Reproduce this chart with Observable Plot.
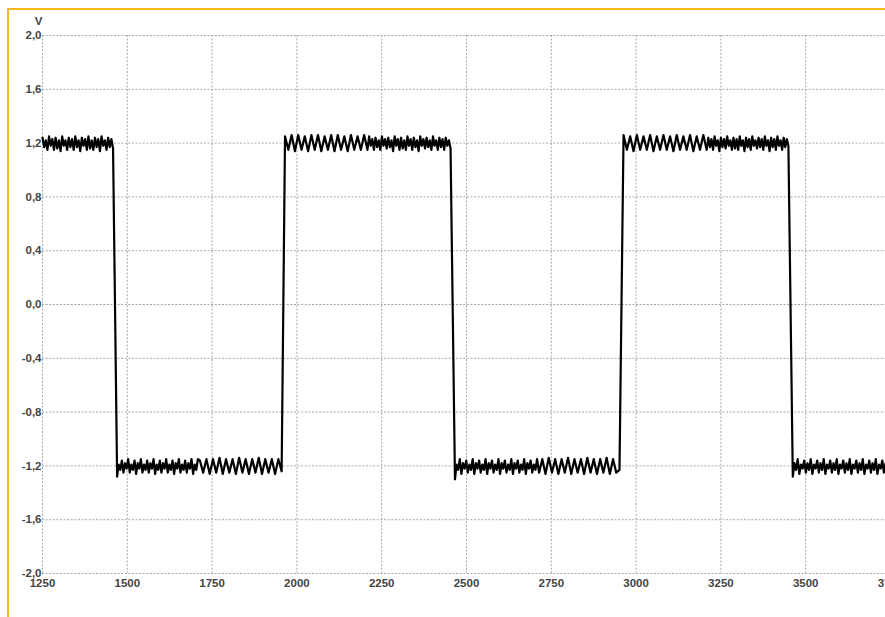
<!DOCTYPE html>
<html><head><meta charset="utf-8">
<script src="https://cdn.jsdelivr.net/npm/d3@7"></script>
<script src="https://cdn.jsdelivr.net/npm/@observablehq/plot@0.6"></script>
<style>
html,body{margin:0;padding:0;background:#fff;width:885px;height:617px;overflow:hidden}
#wrap{position:relative;width:885px;height:617px}
#border{position:absolute;left:7px;top:8px;right:0;bottom:0;border-left:2px solid #f6b81c;border-top:2px solid #f6b81c;pointer-events:none}
#chart{position:absolute;left:0;top:0}
</style></head><body>
<div id="wrap"><div id="chart"></div><div id="border"></div></div>
<script>
const xTicks = [1250, 1500, 1750, 2000, 2250, 2500, 2750, 3000, 3250, 3500, 3750];
const yTicks = [-2.0, -1.6, -1.2, -0.8, -0.4, 0.0, 0.4, 0.8, 1.2, 1.6, 2.0];

// voltage readings (V) per flat section of the trace
const hiDense1 = [1.24,1.17,1.22,1.15, 1.25,1.18,1.23,1.15, 1.24,1.16,1.22,1.14, 1.25,1.18,1.22,1.15, 1.24,1.17,1.23,1.15, 1.25,1.17,1.22,1.14, 1.24,1.18,1.23,1.15, 1.25,1.16,1.22,1.15, 1.24,1.17,1.23,1.14, 1.25,1.18,1.22,1.15, 1.24,1.17,1.23,1.16];
const loDense1 = [-1.28,-1.19,-1.23,-1.16, -1.25,-1.18,-1.22,-1.15, -1.25,-1.19,-1.23,-1.16, -1.26,-1.18,-1.22,-1.15, -1.25,-1.19,-1.23,-1.16, -1.25,-1.18,-1.22,-1.15, -1.26,-1.19,-1.23,-1.16, -1.25,-1.18,-1.22,-1.15, -1.25,-1.19,-1.23,-1.16, -1.26,-1.18,-1.22,-1.15, -1.25,-1.19,-1.23,-1.16, -1.25,-1.18,-1.22,-1.15, -1.26,-1.19,-1.23,-1.15];
const loClean1 = [-1.16,-1.25,-1.15,-1.26,-1.15,-1.25,-1.14,-1.26,-1.15,-1.25,-1.15,-1.26,-1.14,-1.25,-1.15,-1.26,-1.15,-1.25,-1.14,-1.26,-1.15,-1.25,-1.15,-1.26,-1.15,-1.24];
const hiClean1 = [1.25,1.15,1.26,1.14,1.26,1.15,1.25,1.14,1.26,1.15,1.26,1.14,1.25,1.15,1.26,1.14,1.26,1.15,1.25,1.14,1.26,1.15,1.25,1.15,1.26,1.15];
const hiDense2 = [1.25,1.18,1.23,1.15, 1.24,1.17,1.22,1.15, 1.25,1.18,1.23,1.16, 1.24,1.17,1.22,1.14, 1.25,1.18,1.23,1.15, 1.24,1.16,1.22,1.15, 1.25,1.18,1.23,1.15, 1.24,1.17,1.22,1.14, 1.25,1.18,1.23,1.16, 1.24,1.17,1.22,1.15, 1.25,1.18,1.22,1.15, 1.24,1.17,1.23,1.15, 1.24,1.18,1.22,1.16];
const loDense2 = [-1.30,-1.19,-1.23,-1.15, -1.26,-1.18,-1.22,-1.16, -1.25,-1.19,-1.23,-1.15, -1.26,-1.18,-1.22,-1.16, -1.25,-1.19,-1.23,-1.15, -1.26,-1.18,-1.22,-1.16, -1.25,-1.19,-1.23,-1.15, -1.26,-1.18,-1.22,-1.16, -1.25,-1.19,-1.23,-1.15, -1.26,-1.18,-1.22,-1.16, -1.25,-1.19,-1.23,-1.15, -1.26,-1.18,-1.22,-1.16, -1.25,-1.19,-1.23,-1.15];
const loClean2 = [-1.25,-1.15,-1.26,-1.14,-1.25,-1.15,-1.26,-1.15,-1.25,-1.14,-1.26,-1.15,-1.25,-1.15,-1.26,-1.14,-1.25,-1.15,-1.26,-1.15,-1.25,-1.14,-1.26,-1.15,-1.25,-1.23];
const hiClean2 = [1.26,1.15,1.25,1.14,1.26,1.15,1.25,1.15,1.26,1.14,1.25,1.15,1.26,1.15,1.25,1.14,1.26,1.15,1.25,1.15,1.26,1.14,1.25,1.15,1.26,1.15];
const hiDense3 = [1.24,1.17,1.23,1.15, 1.25,1.18,1.22,1.14, 1.24,1.17,1.23,1.16, 1.25,1.18,1.22,1.15, 1.24,1.16,1.23,1.15, 1.25,1.18,1.22,1.14, 1.24,1.17,1.23,1.15, 1.25,1.18,1.22,1.16, 1.24,1.17,1.23,1.15, 1.25,1.18,1.22,1.14, 1.24,1.17,1.23,1.15, 1.25,1.18,1.22,1.15, 1.24,1.17,1.23,1.18];
const loDense3 = [-1.28,-1.18,-1.23,-1.15, -1.26,-1.19,-1.22,-1.16, -1.25,-1.18,-1.23,-1.15, -1.26,-1.19,-1.22,-1.16, -1.25,-1.18,-1.23,-1.15, -1.26,-1.19,-1.22,-1.16, -1.25,-1.18,-1.23,-1.15, -1.26,-1.19,-1.22,-1.16, -1.25,-1.18,-1.23,-1.15, -1.26,-1.19,-1.22,-1.16, -1.25,-1.18,-1.23,-1.15, -1.26,-1.19,-1.22,-1.16, -1.25,-1.18,-1.23,-1.15, -1.26,-1.19,-1.22,-1.16, -1.25,-1.18,-1.23,-1.15];

// start / end time of each section
const segStart = [1250, 1470, 1714, 1965, 2213, 2466, 2714, 2963, 3213, 3462];
const segEnd   = [1458, 1708, 1955, 2208, 2453, 2708, 2951, 3208, 3449, 3745];
const segValues = [hiDense1, loDense1, loClean1, hiClean1, hiDense2, loDense2, loClean2, hiClean2, hiDense3, loDense3];

const data = [];
segValues.forEach((vals, k) => {
  const n = vals.length;
  vals.forEach((v, i) => data.push({t: segStart[k] + i * (segEnd[k] - segStart[k]) / (n - 1), v}));
});

const chart = Plot.plot({
  width: 885, height: 617,
  marginLeft: 42, marginRight: -5, marginTop: 35, marginBottom: 44,
  style: {fontFamily: "'Liberation Sans', Arial, sans-serif", fontSize: "11.5px", fontWeight: "bold", color: "#444", background: "transparent"},
  x: {domain: [1250, 3750], label: null},
  y: {domain: [-2, 2], label: null},
  marks: [
    Plot.gridX({ticks: xTicks, stroke: "#a8a8a8", strokeOpacity: 1, strokeDasharray: "2,1.6"}),
    Plot.gridY({ticks: yTicks, stroke: "#a8a8a8", strokeOpacity: 1, strokeDasharray: "2,1.6"}),
    Plot.axisX({ticks: xTicks, tickSize: 0, tickPadding: 5, tickFormat: d => String(d)}),
    Plot.axisY({ticks: yTicks, tickSize: 0, tickPadding: 1, tickFormat: d => d.toFixed(1).replace(".", ",")}),
    Plot.line(data, {x: "t", y: "v", stroke: "#000", strokeWidth: 2.2, strokeLinejoin: "round"}),
    Plot.text(["V"], {text: d => d, frameAnchor: "top-left", dx: -4, dy: -14, textAnchor: "middle", lineAnchor: "middle", fill: "#444"})
  ]
});
document.getElementById("chart").appendChild(chart);
</script>
</body></html>
